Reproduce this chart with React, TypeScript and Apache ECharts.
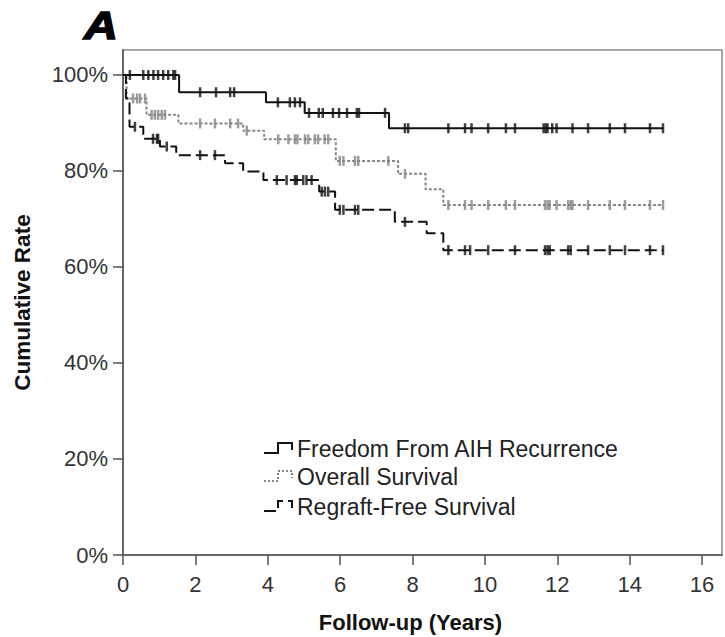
import React, { useEffect, useRef } from "react";
import * as echarts from "echarts";

// ---- data ----
const xTicks = [0, 2, 4, 6, 8, 10, 12, 14, 16];
const yTicks = [0, 20, 40, 60, 80, 100];

const seriesNames = [
  "Freedom From AIH Recurrence",
  "Overall Survival",
  "Regraft-Free Survival",
];

// step curves: [time (years), cumulative rate (%) after that time]
const freedomSteps: [number, number][] = [
  [0, 100], [1.55, 96.4], [3.95, 94.3], [5.02, 92.1], [7.35, 88.9], [14.92, 88.9],
];
const overallSteps: [number, number][] = [
  [0, 100], [0.1, 95.1], [0.65, 91.7], [1.53, 89.9], [3.32, 88.4], [3.9, 86.6],
  [5.88, 82.1], [7.6, 79.4], [8.36, 76.2], [8.85, 72.9], [14.92, 72.9],
];
const regraftSteps: [number, number][] = [
  [0, 100], [0.08, 95.1], [0.18, 89.2], [0.56, 86.7], [1.02, 85.1], [1.47, 83.3],
  [2.82, 81.6], [3.32, 79.9], [3.88, 78.1], [5.42, 75.7], [5.86, 71.9],
  [7.51, 69.4], [8.39, 67.0], [8.85, 63.5], [14.92, 63.5],
];

// censored observation times (years)
const freedomCensors = [
  0.19, 0.56, 0.7, 0.84, 0.97, 1.11, 1.25, 1.39, 1.44,
  2.13, 2.57, 2.96, 3.07,
  4.28, 4.61, 4.75, 4.89,
  5.14, 5.41, 5.52, 5.8, 5.97, 6.19, 6.46, 6.52, 7.24,
  7.79, 7.88, 8.99, 9.45, 9.63, 10.09, 10.58, 10.83, 11.62, 11.68, 11.73,
  11.86, 11.98, 12.42, 12.85, 13.45, 13.87, 14.56, 14.92,
];
const overallCensors = [
  0.28, 0.39, 0.47, 0.61,
  0.79, 0.88, 0.97, 1.07, 1.16,
  2.13, 2.54, 2.96, 3.18,
  3.42,
  4.29, 4.57, 4.75, 4.82, 5.03, 5.12, 5.3, 5.39, 5.57, 5.67,
  5.99, 6.09, 6.41, 6.5, 7.33,
  7.79,
  8.99, 9.45, 9.63, 10.09, 10.58, 10.83, 11.66, 11.73, 11.79, 11.98,
  12.3, 12.37, 12.42, 12.85, 13.45, 13.87, 14.56, 14.92,
];
const regraftCensors = [
  0.33,
  0.83, 0.94, 0.97,
  1.21,
  2.13, 2.54,
  4.25, 4.52, 4.75, 4.8, 4.98, 5.07, 5.21,
  5.49, 5.58, 5.67,
  5.99, 6.09, 6.41, 6.5,
  7.79,
  8.99, 9.45, 9.59, 10.09, 10.83, 11.66, 11.73, 11.79, 12.3, 12.37,
  12.85, 13.45, 13.87, 14.56, 14.92,
];

const FONT = "'Liberation Sans', Arial, Helvetica, sans-serif";

function levelAt(steps: [number, number][], t: number): number {
  let v = steps[0][1];
  for (const [x, y] of steps) {
    if (x <= t) v = y;
  }
  return v;
}

function censorPoints(steps: [number, number][], times: number[]) {
  return times.map((t) => [t, levelAt(steps, t)]);
}

export default function App() {
  const ref = useRef<HTMLDivElement | null>(null);

  useEffect(() => {
    if (!ref.current) return;
    const chart = echarts.init(ref.current, undefined, { renderer: "svg" });

    const black = "#111111";
    const gray = "#858585";

    const lineSeries = (name: string, steps: [number, number][], color: string, type: any) => ({
      name,
      type: "line",
      step: "end",
      data: steps,
      showSymbol: false,
      symbol: "none",
      lineStyle: { color, width: 2, type },
      z: 3,
    });
    const censorSeries = (name: string, steps: [number, number][], times: number[], color: string) => ({
      name,
      type: "scatter",
      data: censorPoints(steps, times),
      symbol: "rect",
      symbolSize: [2.5, 10],
      itemStyle: { color },
      z: 4,
    });

    const legendRows = [
      { y: 449, color: black, dash: null as any, name: seriesNames[0] },
      { y: 477, color: gray, dash: [2, 2], name: seriesNames[1] },
      { y: 507, color: black, dash: [12, 5], name: seriesNames[2] },
    ];

    const graphic: any[] = [
      {
        type: "text",
        x: 84,
        y: 25,
        scaleX: 1.2,
        style: {
          text: "A",
          font: `italic bold 39px ${FONT}`,
          fill: "#000",
          stroke: "#000",
          lineWidth: 1.5,
          verticalAlign: "middle",
          align: "left",
        },
      },
    ];
    legendRows.forEach((r) => {
      graphic.push({
        type: "polyline",
        shape: {
          points: [
            [264, r.y + 4],
            [278, r.y + 4],
            [278, r.y - 6],
            [292, r.y - 6],
            [292, r.y + 1],
          ],
        },
        style: { stroke: r.color, lineWidth: 2, fill: "none", lineDash: r.dash },
      });
      graphic.push({
        type: "text",
        x: 297,
        y: r.y,
        style: {
          text: r.name,
          font: `23px ${FONT}`,
          fill: "#222",
          verticalAlign: "middle",
          align: "left",
        },
      });
    });

    chart.setOption({
      animation: false,
      backgroundColor: "#ffffff",
      grid: {
        left: 123,
        top: 50,
        width: 599,
        height: 505,
        containLabel: false,
        outerBoundsMode: "none",
        show: true,
        borderColor: "#8a8a8a",
        borderWidth: 1.5,
      },
      xAxis: {
        type: "value",
        min: 0,
        max: 16.55,
        interval: 2,
        name: "Follow-up (Years)",
        nameLocation: "middle",
        nameGap: 56,
        nameTextStyle: {
          fontFamily: FONT,
          fontWeight: "bold",
          fontSize: 22,
          color: "#111",
          padding: [0, 24, 0, 0],
        },
        axisLine: { show: true, lineStyle: { color: "#666", width: 2 } },
        axisTick: {
          show: true,
          length: 10,
          customValues: xTicks,
          lineStyle: { color: "#555", width: 1.5 },
        },
        axisLabel: {
          customValues: xTicks,
          fontFamily: FONT,
          fontSize: 22,
          color: "#333",
          margin: 18,
          formatter: (v: number) => (xTicks.includes(v) ? String(v) : ""),
        },
        splitLine: { show: false },
      },
      yAxis: {
        type: "value",
        min: 0,
        max: 105.2,
        interval: 20,
        name: "Cumulative Rate",
        nameLocation: "middle",
        nameGap: 89,
        nameTextStyle: {
          fontFamily: FONT,
          fontWeight: "bold",
          fontSize: 22.5,
          color: "#111",
        },
        axisLine: { show: true, lineStyle: { color: "#666", width: 2 } },
        axisTick: {
          show: true,
          length: 10,
          customValues: yTicks,
          lineStyle: { color: "#555", width: 1.5 },
        },
        axisLabel: {
          customValues: yTicks,
          fontFamily: FONT,
          fontSize: 22,
          color: "#333",
          margin: 15,
          formatter: (v: number) => (yTicks.includes(v) ? `${v}%` : ""),
        },
        splitLine: { show: false },
      },
      legend: { show: false },
      graphic,
      series: [
        lineSeries(seriesNames[1], overallSteps, gray, [3, 2]),
        censorSeries(seriesNames[1], overallSteps, overallCensors, gray),
        lineSeries(seriesNames[2], regraftSteps, black, [12, 5]),
        censorSeries(seriesNames[2], regraftSteps, regraftCensors, black),
        lineSeries(seriesNames[0], freedomSteps, black, "solid"),
        censorSeries(seriesNames[0], freedomSteps, freedomCensors, black),
      ],
    });

    return () => chart.dispose();
  }, []);

  return (
    <div
      ref={ref}
      style={{ position: "fixed", left: 0, top: 0, width: 725, height: 637, background: "#fff" }}
    />
  );
}
